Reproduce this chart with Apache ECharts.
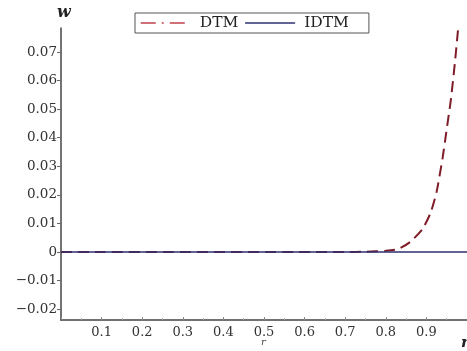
<!DOCTYPE html>
<html><head><meta charset="utf-8">
<script src="https://cdn.jsdelivr.net/npm/echarts@6/dist/echarts.min.js"></script>
<style>html,body{margin:0;padding:0;background:#fff}#c{width:467px;height:351px}</style>
</head><body><div id="c"></div>
<script>
var dtmR = [0, 0.70, 0.75, 0.80, 0.83, 0.86, 0.89, 0.91, 0.925, 0.94, 0.95, 0.96, 0.97, 0.978, 0.985];
var dtmW = [0, 0, 0.0001, 0.0004, 0.001, 0.0035, 0.008, 0.0136, 0.021, 0.033, 0.043, 0.053, 0.066, 0.078, 0.090];
var idtmR = [0, 1];
var idtmW = [0, 0];
var yTicks = [-0.02, -0.01, 0, 0.01, 0.02, 0.03, 0.04, 0.05, 0.06, 0.07];
var yMin = -0.0238, yMax = 0.0784;

function pairs(a, b) { return a.map(function (v, i) { return [v, b[i]]; }); }
function fmt(v) {
  if (Math.abs(v) < 1e-9) return '0';
  var s = Math.abs(v).toFixed(2);
  return (v < 0 ? '\u2212' : '') + s;
}
var font = 'DejaVu Serif';
var hidden = { color: 'rgba(0,0,0,0)', borderColor: 'rgba(0,0,0,0)', borderWidth: 0 };
var chart = echarts.init(document.getElementById('c'));
chart.setOption({
  animation: false,
  grid: { left: 61, top: 28, width: 410, bottom: 31 },
  legend: {
    left: 135, top: 13,
    itemWidth: 50, itemHeight: 12, itemGap: 6,
    padding: [2, 20, 2, 5],
    borderColor: '#555', borderWidth: 1,
    backgroundColor: '#fff',
    textStyle: { fontFamily: font, fontSize: 15.5, color: '#222', padding: [0, 0, 0, 4] },
    data: [
      { name: 'DTM', itemStyle: hidden, lineStyle: { type: [15, 6, 2, 6], color: '#c0404a', width: 1.5 } },
      { name: 'IDTM', itemStyle: hidden, lineStyle: { color: '#2e3070', width: 1.5 } }
    ]
  },
  xAxis: {
    type: 'value', min: 0, max: 1, interval: 0.1,
    axisLine: { onZero: false, lineStyle: { color: '#444', width: 1.5 } },
    axisTick: { show: true, inside: true, length: 3, lineStyle: { color: '#888' } },
    minorTick: { show: true, splitNumber: 2, length: 2, lineStyle: { color: '#aaa' } },
    axisLabel: {
      showMinLabel: false, showMaxLabel: false,
      fontFamily: font, fontSize: 13, color: '#333', margin: 6,
      formatter: function (v) { return v.toFixed(1); }
    },
    splitLine: { show: false }
  },
  yAxis: {
    type: 'value', min: yMin, max: yMax,
    axisLine: { onZero: false, lineStyle: { color: '#444', width: 1.5 } },
    axisTick: { show: true, length: 4, customValues: yTicks, lineStyle: { color: '#666' } },
    axisLabel: {
      customValues: yTicks, fontFamily: font, fontSize: 13.5, color: '#333', margin: 4,
      formatter: fmt
    },
    splitLine: { show: false }
  },
  series: [
    {
      name: 'DTM', type: 'line', data: pairs(dtmR, dtmW), symbol: 'none', smooth: 0.2,
      clip: true,
      lineStyle: { color: '#7e1c28', width: 2, type: [11, 6] },
      itemStyle: { color: '#c0404a' },
      z: 2
    },
    {
      name: 'IDTM', type: 'line', data: pairs(idtmR, idtmW), symbol: 'none',
      lineStyle: { color: '#2e3070', width: 1.5 },
      itemStyle: { color: '#2e3070' },
      z: 3
    }
  ],
  graphic: [
    { type: 'text', left: 57, top: 5, style: { text: 'w', font: 'italic bold 16px "DejaVu Serif"', fill: '#222' } },
    { type: 'text', left: 261, top: 337, style: { text: 'r', font: 'italic 10px "DejaVu Serif"', fill: '#444' } },
    { type: 'text', left: 461, top: 336, style: { text: 'r', font: 'italic bold 15px "DejaVu Serif"', fill: '#222' } }
  ]
});
</script></body></html>
